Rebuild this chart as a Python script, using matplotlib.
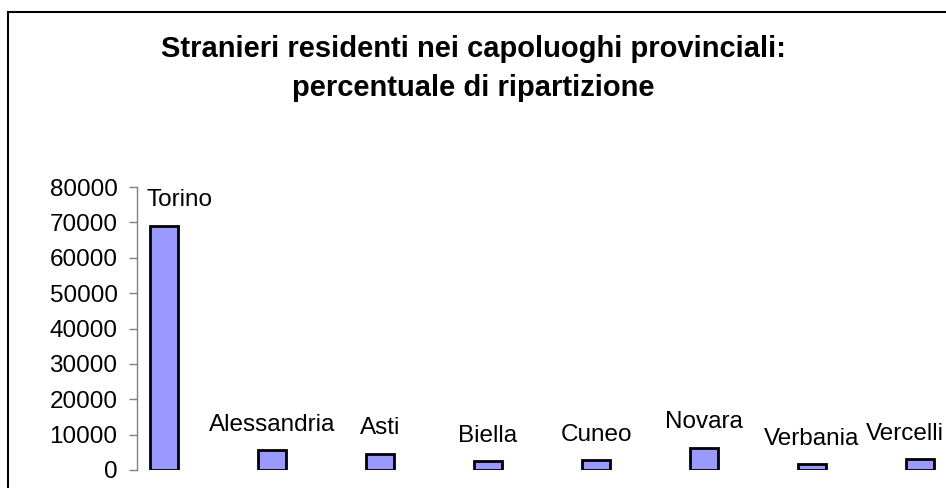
import matplotlib
matplotlib.use("Agg")
import matplotlib.pyplot as plt
from matplotlib.patches import Rectangle

# stranieri residenti nei capoluoghi
cities = ["Torino", "Alessandria", "Asti", "Biella", "Cuneo", "Novara", "Verbania", "Vercelli"]
residents = [69000, 5650, 4600, 2500, 2700, 6300, 1600, 3000]
y_ticks = [0, 10000, 20000, 30000, 40000, 50000, 60000, 70000, 80000]

plt.rcParams['font.family'] = ['Liberation Sans', 'DejaVu Sans']

W, H = 946, 488
fig = plt.figure(figsize=(W / 100, H / 100), dpi=100)
fig.patch.set_facecolor('white')

ax = fig.add_axes([137 / W, 18 / H, (W - 137) / W, (470 - 187) / H])
x = range(len(cities))
ax.bar(x, residents, width=0.26, color='#9999FF', edgecolor='black', linewidth=2)

ax.set_xlim(-0.25, -0.25 + (W - 137) / 108)
ax.set_ylim(0, 80000)
ax.set_yticks(y_ticks)
ax.set_yticklabels([str(t) for t in y_ticks])
ax.set_xticks([])
for s in ['top', 'right', 'bottom']:
    ax.spines[s].set_visible(False)
ax.spines['left'].set_color('#808080')
ax.spines['left'].set_linewidth(1)
ax.tick_params(axis='y', length=6, width=1, color='#808080', pad=8, labelsize=17.5)

# category labels above the bars
for i, (name, v) in enumerate(zip(cities, residents)):
    dx = 0
    if i == 0:
        dx = 11.5   # Excel pushes it off the axis
    elif i == len(cities) - 1:
        dx = -11
    ax.annotate(name, (i, v), xytext=(dx, 14), textcoords='offset points',
                ha='center', va='baseline', fontsize=17.5, annotation_clip=False)

fig.text(0.5, 1 - 57 / H, "Stranieri residenti nei capoluoghi provinciali:",
         ha='center', va='baseline', fontsize=21, fontweight='bold')
fig.text(0.5, 1 - 96 / H, "percentuale di ripartizione",
         ha='center', va='baseline', fontsize=21, fontweight='bold')

# chart border (cropped at right and bottom)
fig.patches.append(Rectangle((7.5 / W, -0.1), 1.2, (H - 12.5) / H + 0.1,
                             transform=fig.transFigure, fill=False,
                             edgecolor='black', linewidth=1.5))

fig.savefig("out.png", dpi=100, facecolor='white')
